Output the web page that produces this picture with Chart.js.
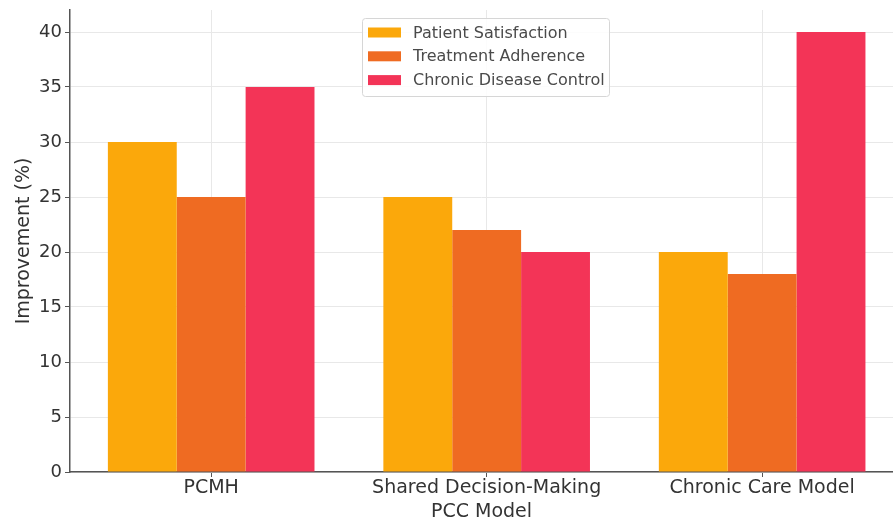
<!DOCTYPE html>
<html>
<head>
<meta charset="utf-8">
<script src="https://cdn.jsdelivr.net/npm/chart.js@4.4.0/dist/chart.umd.min.js"></script>
<style>
  html, body { margin: 0; padding: 0; background: #ffffff; overflow: hidden; }
  #wrap { width: 893px; height: 523px; position: relative; }
</style>
</head>
<body>
<div id="wrap"><canvas id="chart"></canvas></div>
<script>
// Categories and series (improvement in %)
const models = ['PCMH', 'Shared Decision-Making', 'Chronic Care Model'];
const seriesNames = ['Patient Satisfaction', 'Treatment Adherence', 'Chronic Disease Control'];
const patientSatisfaction = [30, 25, 20];
const treatmentAdherence = [25, 22, 18];
const chronicDiseaseControl = [35, 20, 40];
const yTicks = [0, 5, 10, 15, 20, 25, 30, 35, 40];

const colors = ['#FBA80B', '#EF6B22', '#F33457'];
const FONT = 'DejaVu Sans, Verdana, sans-serif';

function toPoints(values) {
  return values.map((v, i) => ({ x: i, y: v }));
}

// Legend box drawn inside the plot, near the top centre
const innerLegend = {
  id: 'innerLegend',
  afterDraw(chart) {
    const ctx = chart.ctx;
    const box = { x: 362.5, y: 18.5, w: 247, h: 78 };
    ctx.save();
    ctx.fillStyle = 'rgba(255,255,255,0.85)';
    ctx.strokeStyle = '#d6d6d6';
    ctx.lineWidth = 1;
    ctx.beginPath();
    ctx.roundRect(box.x, box.y, box.w, box.h, 3);
    ctx.fill();
    ctx.stroke();
    ctx.font = '16px ' + FONT;
    ctx.textBaseline = 'middle';
    ctx.textAlign = 'left';
    chart.data.datasets.forEach((ds, i) => {
      const cy = 32.5 + i * 23.8;
      ctx.fillStyle = ds.backgroundColor;
      ctx.fillRect(368, cy - 5, 33, 10);
      ctx.fillStyle = '#4a4a4a';
      ctx.fillText(ds.label, 413, cy + 1);
    });
    ctx.restore();
  }
};

new Chart(document.getElementById('chart'), {
  type: 'bar',
  data: {
    datasets: [
      { label: seriesNames[0], data: toPoints(patientSatisfaction), backgroundColor: colors[0] },
      { label: seriesNames[1], data: toPoints(treatmentAdherence), backgroundColor: colors[1] },
      { label: seriesNames[2], data: toPoints(chronicDiseaseControl), backgroundColor: colors[2] }
    ]
  },
  options: {
    responsive: true,
    maintainAspectRatio: false,
    animation: false,
    layout: { padding: { left: 0, right: 0, top: 10, bottom: 0 } },
    datasets: { bar: { categoryPercentage: 0.75, barPercentage: 1.0, borderWidth: 0 } },
    plugins: {
      legend: { display: false },
      tooltip: { enabled: false }
    },
    scales: {
      x: {
        type: 'linear',
        min: -0.5125,
        max: 2.475,
        offset: false,
        grid: { offset: false, color: '#e8e8e8', lineWidth: 1, tickLength: 5, tickColor: '#555555' },
        border: { display: true, color: '#555555', width: 1.5 },
        afterBuildTicks(scale) { scale.ticks = models.map((_, i) => ({ value: i })); },
        afterFit(scale) { scale.height = 51; scale.paddingLeft = 0; scale.paddingRight = 0; },
        ticks: {
          autoSkip: false,
          maxRotation: 0,
          padding: 0,
          color: '#333333',
          font: { family: FONT, size: 19 },
          callback: (v) => models[v]
        },
        title: {
          display: true,
          text: 'PCC Model',
          color: '#333333',
          font: { family: FONT, size: 19 },
          padding: { top: 0, bottom: 0 }
        }
      },
      y: {
        min: 0,
        max: 42,
        grid: { color: '#e8e8e8', lineWidth: 1, tickLength: 5, tickColor: '#555555' },
        border: { display: true, color: '#555555', width: 1.5 },
        afterBuildTicks(scale) { scale.ticks = yTicks.map(v => ({ value: v })); },
        afterFit(scale) { scale.width = 70; scale.paddingTop = 0; scale.paddingBottom = 0; },
        ticks: {
          padding: 3,
          color: '#333333',
          font: { family: FONT, size: 18 }
        },
        title: {
          display: true,
          text: 'Improvement (%)',
          color: '#333333',
          font: { family: FONT, size: 19 },
          padding: { top: 13, bottom: 0 }
        }
      }
    }
  },
  plugins: [innerLegend]
});
</script>
</body>
</html>
